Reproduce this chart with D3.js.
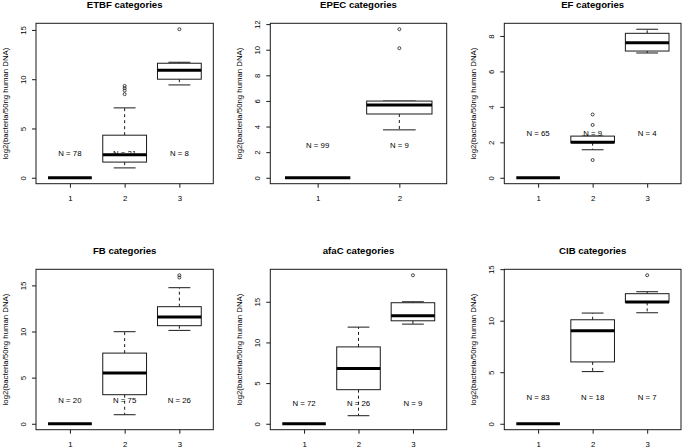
<!DOCTYPE html>
<html><head><meta charset="utf-8">
<script src="https://cdn.jsdelivr.net/npm/d3@7"></script>
<style>body{margin:0;background:#fff}svg{display:block}text{font-family:"Liberation Sans",Arial,Helvetica,sans-serif;fill:#000}</style>
</head><body><svg id="c" width="683" height="448"></svg>
<script>
const titles = ["ETBF categories","EPEC categories","EF categories","FB categories","afaC categories","CIB categories"];
const yLabel = "log2(bacteria/50ng human DNA)";
// per category: [lower whisker, Q1, median, Q3, upper whisker]
const etbfStats = [[0,0,0,0,0],[1.0,1.59,2.33,4.32,7.09],[9.42,10.0,10.91,11.62,11.72]];
const etbfOut = [[],[8.48,8.85,9.09,9.32],[15.07]];
const etbfN = [78,21,8];
const etbfTicks = [0,5,10,15];
const epecStats = [[0,0,0,0,0],[3.74,4.98,5.68,5.99,5.99]];
const epecOut = [[],[10.12,11.6]];
const epecN = [99,9];
const epecTicks = [0,2,4,6,8,10,12];
const efStats = [[0,0,0,0,0],[1.58,1.98,2.0,2.35,2.35],[7.04,7.15,7.62,8.15,8.38]];
const efOut = [[],[1.0,2.98,3.57],[]];
const efN = [65,9,4];
const efTicks = [0,2,4,6,8];
const fbStats = [[0,0,0,0,0],[0.98,3.15,5.49,7.66,9.98],[10.12,10.63,11.56,12.69,14.75]];
const fbOut = [[],[],[15.85,16.1]];
const fbN = [20,75,26];
const fbTicks = [0,5,10,15];
const afacStats = [[0,0,0,0,0],[0.99,4.19,6.78,9.45,11.88],[12.25,12.66,13.27,14.88,15.0]];
const afacOut = [[],[],[18.26]];
const afacN = [72,26,9];
const afacTicks = [0,5,10,15];
const cibStats = [[0,0,0,0,0],[5.06,6.0,9.02,10.09,10.74],[10.77,11.78,11.82,12.62,12.81]];
const cibOut = [[],[],[14.41]];
const cibN = [83,18,7];
const cibTicks = [0,5,10,15];
const nLabelY = 2.5;

const svg = d3.select("#c");
const colL=[36,270.3,504.3], colR=[213.3,446.7,681];
const rowT=[23.3,269.3], rowB=[183.7,429.7];
const ink="#1a1a1a";

function panel(i, stats, outs, ns, ticks){
  const c=i%3, r=Math.floor(i/3);
  const L=colL[c],R=colR[c],T=rowT[r],B=rowB[r];
  const n=stats.length;
  const all=stats.flat().concat(outs.flat());
  const lo=d3.min(all), hi=d3.max(all), pad=(hi-lo)*0.04;
  const y=d3.scaleLinear().domain([lo-pad,hi+pad]).range([B,T]);
  const xp=n*0.04;
  const x=d3.scaleLinear().domain([0.5-xp,n+0.5+xp]).range([L,R]);
  const g=svg.append("g");

  // y axis
  const ya=g.append("g").attr("transform",`translate(${L},0)`)
    .call(d3.axisLeft(y).tickValues(ticks).tickSize(4).tickSizeOuter(0).tickFormat(d3.format("d")));
  ya.select(".domain").remove();
  ya.selectAll("line").attr("stroke",ink);
  ya.selectAll("text").attr("x",null).attr("dy",null)
    .attr("transform","translate(-13,0) rotate(-90)")
    .attr("text-anchor","middle").attr("dominant-baseline","central")
    .style("font-size","7.8px").attr("fill","#000");
  // x axis
  const xa=g.append("g").attr("transform",`translate(0,${B})`)
    .call(d3.axisBottom(x).tickValues(d3.range(1,n+1)).tickSize(4).tickSizeOuter(0).tickFormat(d3.format("d")));
  xa.select(".domain").remove();
  xa.selectAll("line").attr("stroke",ink);
  xa.selectAll("text").attr("y",17.5).attr("dy",null)
    .style("font-size","7.8px").attr("fill","#000");

  // frame
  g.append("rect").attr("x",L).attr("y",T).attr("width",R-L).attr("height",B-T)
    .attr("fill","none").attr("stroke",ink).attr("stroke-width",1);

  // title
  g.append("text").attr("x",(L+R)/2).attr("y",T-15).attr("text-anchor","middle")
    .style("font-size","9.6px").style("font-weight","bold").text(titles[i]);
  // y label
  const ly=(T+B)/2, lx=L-31;
  g.append("text").attr("transform",`translate(${lx},${ly}) rotate(-90)`)
    .attr("text-anchor","middle").attr("dominant-baseline","central")
    .style("font-size","7.8px").text(yLabel);

  // boxes
  stats.forEach((s,k)=>{
    const cx=k+1;
    const bg=g.append("g");
    bg.append("line").attr("x1",x(cx)).attr("x2",x(cx)).attr("y1",y(s[1])).attr("y2",y(s[0]))
      .attr("stroke",ink).attr("stroke-dasharray","3,3");
    bg.append("line").attr("x1",x(cx)).attr("x2",x(cx)).attr("y1",y(s[3])).attr("y2",y(s[4]))
      .attr("stroke",ink).attr("stroke-dasharray","3,3");
    [s[0],s[4]].forEach(v=>{
      bg.append("line").attr("x1",x(cx-0.2)).attr("x2",x(cx+0.2)).attr("y1",y(v)).attr("y2",y(v))
        .attr("stroke",ink);
    });
    bg.append("rect").attr("x",x(cx-0.4)).attr("width",x(cx+0.4)-x(cx-0.4))
      .attr("y",y(s[3])).attr("height",Math.max(0,y(s[1])-y(s[3])))
      .attr("fill","#fff").attr("stroke",ink);
    bg.append("line").attr("x1",x(cx-0.4)).attr("x2",x(cx+0.4)).attr("y1",y(s[2])).attr("y2",y(s[2]))
      .attr("stroke","#000").attr("stroke-width",3);
    bg.selectAll("circle").data(outs[k]).enter().append("circle")
      .attr("cx",x(cx)).attr("cy",d=>y(d)).attr("r",1.5)
      .attr("fill","none").attr("stroke",ink).attr("stroke-width",0.8);
  });

  // N labels (drawn on top of boxes)
  g.selectAll(".nl").data(ns).enter().append("text").attr("class","nl")
    .attr("x",(d,k)=>x(k+1)).attr("y",y(nLabelY))
    .attr("text-anchor","middle").attr("dominant-baseline","central")
    .style("font-size","7.8px").text(d=>"N = "+d);
}

panel(0, etbfStats, etbfOut, etbfN, etbfTicks);
panel(1, epecStats, epecOut, epecN, epecTicks);
panel(2, efStats, efOut, efN, efTicks);
panel(3, fbStats, fbOut, fbN, fbTicks);
panel(4, afacStats, afacOut, afacN, afacTicks);
panel(5, cibStats, cibOut, cibN, cibTicks);
</script>
</body></html>
